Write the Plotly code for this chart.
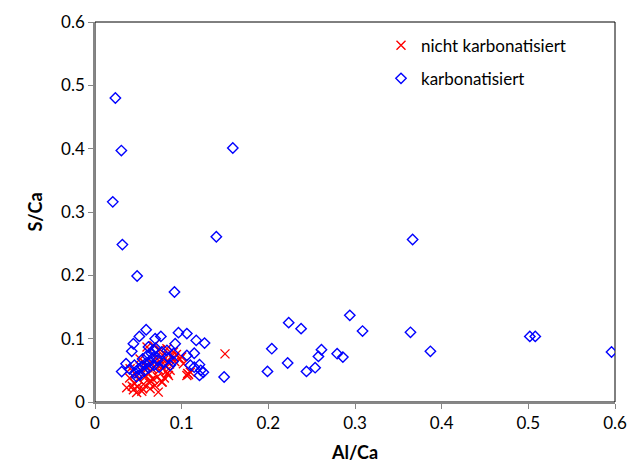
import plotly.graph_objects as go

# nicht karbonatisiert (red x)
red_x = [0.0366, 0.0443, 0.048, 0.055, 0.0636, 0.073, 0.069, 0.077, 0.0848, 0.0867,
         0.106, 0.110, 0.081, 0.098, 0.0905, 0.075, 0.052, 0.0405, 0.060, 0.068,
         0.150, 0.1079, 0.100, 0.102, 0.107, 0.083, 0.0835, 0.0775, 0.045, 0.050,
         0.058, 0.062, 0.066, 0.071, 0.079, 0.088, 0.092, 0.056, 0.064, 0.072,
         0.047, 0.053, 0.059, 0.065, 0.070, 0.076, 0.082, 0.094, 0.040, 0.057,
         0.067, 0.074, 0.086, 0.061, 0.078, 0.043, 0.049, 0.054, 0.063, 0.080]
red_y = [0.0226, 0.0194, 0.015, 0.021, 0.021, 0.0156, 0.026, 0.0315, 0.042, 0.050,
         0.042, 0.047, 0.058, 0.068, 0.079, 0.0826, 0.068, 0.0526, 0.087, 0.089,
         0.076, 0.0436, 0.071, 0.0605, 0.045, 0.084, 0.045, 0.0315, 0.030, 0.036,
         0.040, 0.045, 0.052, 0.060, 0.066, 0.072, 0.064, 0.028, 0.034, 0.040,
         0.044, 0.050, 0.056, 0.062, 0.070, 0.058, 0.048, 0.075, 0.038, 0.062,
         0.036, 0.050, 0.060, 0.054, 0.074, 0.025, 0.024, 0.017, 0.030, 0.038]

# karbonatisiert (blue diamonds)
blue_x = [0.0235, 0.0304, 0.159, 0.0205, 0.0316, 0.0486, 0.0917, 0.140, 0.3665, 0.596,
          0.149, 0.204, 0.199, 0.2235, 0.2223, 0.2378, 0.244, 0.254, 0.2578, 0.2613,
          0.2794, 0.286, 0.294, 0.3087, 0.364, 0.387, 0.5017, 0.508,
          0.059, 0.0512, 0.0443, 0.0424, 0.076, 0.0694, 0.0963, 0.106, 0.1168, 0.1264,
          0.0925, 0.0905, 0.106, 0.1145, 0.0867, 0.110, 0.1206, 0.122, 0.125, 0.1206,
          0.0308, 0.0358, 0.0617, 0.0675, 0.077, 0.083, 0.0455, 0.050, 0.054, 0.058,
          0.063, 0.067, 0.072, 0.079, 0.040, 0.046, 0.052, 0.057, 0.062, 0.068,
          0.074, 0.055, 0.060, 0.065, 0.070, 0.048, 0.085, 0.090, 0.1145]
blue_y = [0.480, 0.397, 0.401, 0.316, 0.2485, 0.199, 0.1736, 0.261, 0.2566, 0.0789,
          0.0394, 0.0842, 0.0483, 0.1253, 0.0615, 0.1158, 0.0483, 0.0542, 0.072, 0.0826,
          0.0763, 0.0709, 0.1368, 0.112, 0.110, 0.080, 0.1036, 0.1036,
          0.114, 0.1036, 0.092, 0.080, 0.1036, 0.100, 0.1095, 0.108, 0.0973, 0.093,
          0.092, 0.0763, 0.0736, 0.077, 0.058, 0.058, 0.059, 0.050, 0.047, 0.042,
          0.048, 0.0605, 0.0868, 0.0826, 0.079, 0.0815, 0.058, 0.052, 0.056, 0.060,
          0.064, 0.070, 0.066, 0.062, 0.052, 0.046, 0.043, 0.049, 0.054, 0.058,
          0.055, 0.068, 0.073, 0.077, 0.085, 0.040, 0.070, 0.064, 0.055]

fig = go.Figure()
fig.add_trace(go.Scatter(
    x=red_x, y=red_y, mode="markers", name="nicht karbonatisiert", legendgroup="a",
    marker=dict(symbol="x-thin-open", size=9, color="#FF0000",
                line=dict(color="#FF0000", width=1.4))))
fig.add_trace(go.Scatter(
    x=blue_x, y=blue_y, mode="markers", name="karbonatisiert", legendgroup="b",
    marker=dict(symbol="diamond-open", size=8, color="#0000FF",
                line=dict(color="#0000FF", width=1.4))))

font_family = "Lato, 'Open Sans', sans-serif"
axis_common = dict(
    showgrid=False, zeroline=False, showline=True, linecolor="#868686", linewidth=1.5,
    ticks="outside", ticklen=5, tickcolor="#868686", tickwidth=1, automargin=False,
    tickfont=dict(family=font_family, size=17, color="#000000"),
)
fig.update_xaxes(range=[0, 0.6], dtick=0.1, tick0=0,
                 title=dict(text="<b>Al/Ca</b>", font=dict(family=font_family, size=18, color="#000000"), standoff=14),
                 **axis_common)
fig.update_yaxes(range=[0, 0.6], dtick=0.1, tick0=0,
                 title=dict(text="<b>S/Ca</b>", font=dict(family=font_family, size=18, color="#000000"), standoff=14),
                 **axis_common)

fig.add_shape(type="rect", xref="paper", yref="paper", x0=0, y0=0, x1=1, y1=1,
              line=dict(color="#000000", width=1), layer="below")

fig.update_layout(
    width=637, height=466,
    margin=dict(l=95, r=22, t=22, b=64),
    plot_bgcolor="white", paper_bgcolor="white",
    showlegend=True,
    legend=dict(x=0.55, y=0.985, xanchor="left", yanchor="top",
                bgcolor="rgba(0,0,0,0)", font=dict(family=font_family, size=17, color="#000000"),
                tracegroupgap=8, itemwidth=30),
    font=dict(family=font_family),
)

fig.write_html("out.html")
